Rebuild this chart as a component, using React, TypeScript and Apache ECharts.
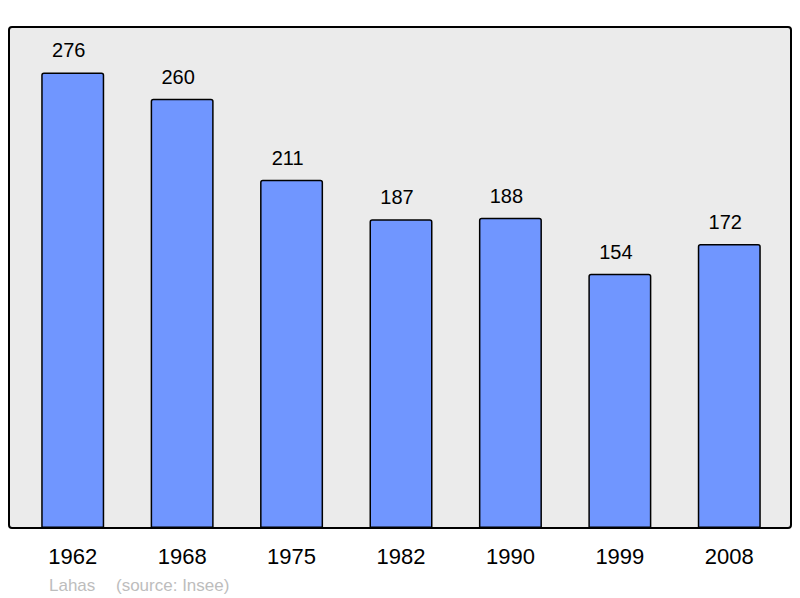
import React, { useEffect, useRef } from "react";
import * as echarts from "echarts";

const years = ["1962", "1968", "1975", "1982", "1990", "1999", "2008"];
const population = [276, 260, 211, 187, 188, 154, 172];
const placeName = "Lahas";
const sourceText = "(source: Insee)";

export default function App() {
  const ref = useRef<HTMLDivElement>(null);
  useEffect(() => {
    const chart = echarts.init(ref.current!, null, { renderer: "svg" });
    chart.setOption({
      animation: false,
      backgroundColor: "#ffffff",
      textStyle: { fontFamily: "Liberation Sans, Arial, sans-serif" },
      graphic: [
        {
          type: "rect",
          z: -10,
          shape: { x: 9, y: 27, width: 782, height: 501, r: 3 },
          style: { fill: "#ebebeb", stroke: "#000000", lineWidth: 2 },
        },
        {
          type: "text",
          x: 49,
          y: 585,
          style: {
            text: placeName,
            fill: "#bdbdbd",
            font: "17px 'Liberation Sans', Arial, sans-serif",
            verticalAlign: "middle",
          },
        },
        {
          type: "text",
          x: 116,
          y: 585,
          style: {
            text: sourceText,
            fill: "#bdbdbd",
            font: "17px 'Liberation Sans', Arial, sans-serif",
            verticalAlign: "middle",
          },
        },
      ],
      grid: { left: 18, right: 16, top: 27, bottom: 70, containLabel: false },
      xAxis: {
        type: "category",
        data: years,
        boundaryGap: true,
        axisLine: { show: false },
        axisTick: { show: false },
        axisLabel: {
          color: "#000000",
          fontSize: 22,
          margin: 17,
          fontFamily: "Liberation Sans, Arial, sans-serif",
        },
      },
      yAxis: {
        type: "value",
        min: 0,
        max: 303.5,
        show: false,
        splitLine: { show: false },
      },
      series: [
        {
          type: "bar",
          data: population,
          barWidth: 63,
          z: 2,
          itemStyle: {
            color: "#7096ff",
            borderColor: "#000000",
            borderWidth: 1.5,
            borderRadius: [2, 2, 0, 0],
          },
          label: {
            show: true,
            position: "top",
            distance: 12,
            offset: [-4, 0],
            color: "#000000",
            fontSize: 20,
            fontFamily: "Liberation Sans, Arial, sans-serif",
          },
        },
      ],
    });
    return () => chart.dispose();
  }, []);
  return <div ref={ref} style={{ width: 800, height: 598, position: "absolute", left: 0, top: 0 }} />;
}
